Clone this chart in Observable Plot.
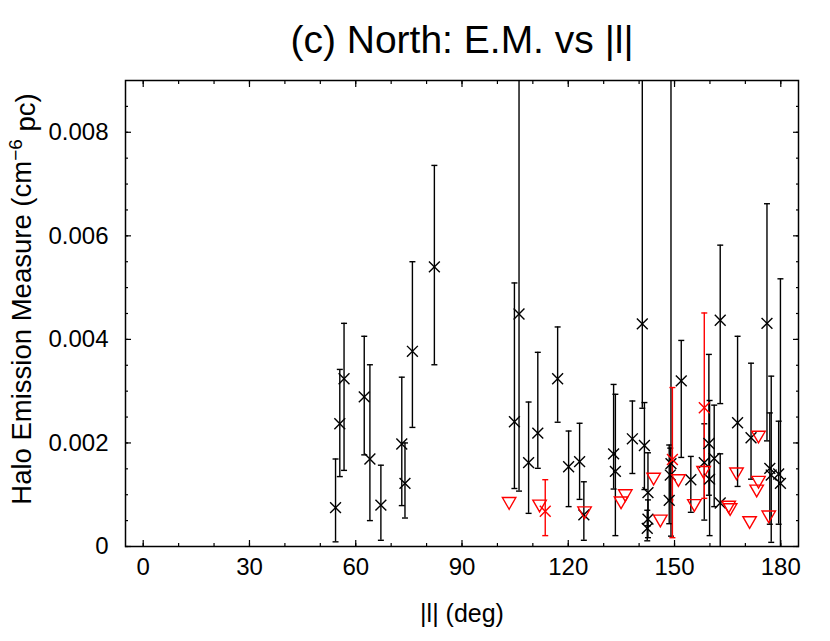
<!DOCTYPE html>
<html>
<head>
<meta charset="utf-8">
<script src="https://cdn.jsdelivr.net/npm/d3@7"></script>
<script src="https://cdn.jsdelivr.net/npm/@observablehq/plot@0.6"></script>
<style>
  html, body { margin: 0; padding: 0; background: #fff; }
  svg { display: block; }
</style>
</head>
<body>
<div id="chart"></div>
<script>
// ---- data ----
const titleText = "(c) North: E.M. vs |l|";
const xLabelText = "|l| (deg)";

const xMajorTicks = [0, 30, 60, 90, 120, 150, 180];
const xMinorTicks = [0, 10, 20, 30, 40, 50, 60, 70, 80, 90, 100, 110, 120, 130, 140, 150, 160, 170, 180];
const yMajorTicks = [0, 0.002, 0.004, 0.006, 0.008];
const yMinorTicks = [0, 0.0005, 0.001, 0.0015, 0.002, 0.0025, 0.003, 0.0035, 0.004, 0.0045, 0.005, 0.0055, 0.006, 0.0065, 0.007, 0.0075, 0.008, 0.0085];

// detections (black x with error bars)
const blackL  = [54.3, 55.5, 56.7, 62.4, 64.0, 67.1, 73.0, 73.9, 76.0, 82.2,
                 104.8, 106.1, 108.8, 111.4, 117.0, 120.1, 123.2, 124.4,
                 132.8, 133.3, 138.1, 140.9, 141.5, 142.5, 142.5, 142.3,
                 148.5, 148.8, 149.0, 151.9, 154.6, 158.4, 159.7, 159.9, 161.2,
                 162.9, 162.9, 167.8, 171.6, 176.1, 176.9, 177.3, 179.4, 179.9];
const blackEM = [0.00075, 0.00237, 0.00324, 0.00289, 0.00169, 0.00080, 0.00198, 0.00122, 0.00377, 0.00540,
                 0.00241, 0.00449, 0.00162, 0.00219, 0.00324, 0.00154, 0.00164, 0.00061,
                 0.00179, 0.00145, 0.00208, 0.00430, 0.00195, 0.00104, 0.00053, 0.00035,
                 0.00089, 0.00138, 0.00160, 0.00320, 0.00129, 0.00162, 0.00199, 0.00130, 0.00170,
                 0.00437, 0.00084, 0.00239, 0.00210, 0.00431, 0.00151, 0.00138, 0.00140, 0.00122];
const blackLo = [0.00009, 0.00135, 0.00147, 0.00177, 0.00050, 0.00012, 0.00079, 0.00055, 0.00230, 0.00351,
                 0.00112, 0.00107, 0.00064, 0.00151, 0.00240, 0.00077, 0.00091, 0.00012,
                 0.00111, 0.00021, 0.00141, 0.00267, 0.00110, 0.00040, 0.00017, 0.00011,
                 0.00044, 0.00090, 0.00020, 0.00172, 0.00066, 0.00051, 0.00099, 0.00021, 0.00077,
                 0.00276, -0.0005, 0.00116, 0.00130, 0.00204, 0.00043, 0.00008, 0.00043, -0.0005];
const blackHi = [0.00169, 0.00342, 0.00431, 0.00406, 0.00351, 0.00157, 0.00327, 0.00200, 0.00550, 0.00736,
                 0.00509, 0.0095, 0.00279, 0.00375, 0.00424, 0.00223, 0.00238, 0.00125,
                 0.00313, 0.00294, 0.00281, 0.0095, 0.00278, 0.00181, 0.00090, 0.00070,
                 0.00196, 0.00190, 0.0095, 0.00398, 0.00174, 0.00237, 0.00371, 0.00282, 0.00273,
                 0.00582, 0.00179, 0.00406, 0.00354, 0.00662, 0.00258, 0.00329, 0.00242, 0.00517];

// red detections (red x with error bars)
const redL  = [113.5, 149.4, 158.4];
const redEM = [0.00068, 0.00168, 0.00268];
const redLo = [0.00021, 0.00017, 0.00093];
const redHi = [0.00129, 0.00307, 0.00451];

// upper limits (red down triangles)
const limL  = [103.3, 111.9, 124.6, 134.9, 136.1, 144.1, 146.0, 151.1, 155.6, 158.2,
               165.3, 165.7, 167.5, 171.2, 173.2, 173.7, 173.7, 176.6];
const limEM = [0.00087, 0.00082, 0.00069, 0.00088, 0.00102, 0.00134, 0.00053, 0.00131, 0.00083, 0.00147,
               0.00080, 0.00075, 0.00144, 0.00050, 0.00111, 0.00128, 0.00215, 0.00061];

// ---- tables built from the arrays ----
const black = blackL.map((l, i) => ({l, em: blackEM[i], lo: blackLo[i], hi: blackHi[i]}));
const red = redL.map((l, i) => ({l, em: redEM[i], lo: redLo[i], hi: redHi[i]}));
const limits = limL.map((l, i) => ({l, em: limEM[i]}));

const capSymbol = {
  draw(context, size) {
    const r = Math.sqrt(size / Math.PI);
    context.moveTo(-r, 0);
    context.lineTo(r, 0);
  }
};

const FONT = "'Liberation Sans', Arial, Helvetica, sans-serif";
const BLACK = "#000000";
const RED = "#ff0000";

function errorMarks(data, color) {
  return [
    Plot.ruleX(data, {x: "l", y1: "lo", y2: "hi", stroke: color, strokeWidth: 1.4, clip: true}),
    Plot.dot(data, {x: "l", y: "lo", symbol: capSymbol, r: 3, stroke: color, strokeWidth: 1.4, fill: "none", clip: true}),
    Plot.dot(data, {x: "l", y: "hi", symbol: capSymbol, r: 3, stroke: color, strokeWidth: 1.4, fill: "none", clip: true})
  ];
}

const chart = Plot.plot({
  width: 830,
  height: 641,
  marginLeft: 125,
  marginRight: 32,
  marginTop: 80,
  marginBottom: 95,
  style: {fontFamily: FONT, background: "#fff", color: "#000"},
  x: {domain: [-5, 185], label: null},
  y: {domain: [0, 0.009], label: null},
  marks: [
    // inward ticks on all four sides
    Plot.axisX(xMinorTicks, {anchor: "bottom", tickSize: -3, tickFormat: () => "", strokeWidth: 1.2, label: null}),
    Plot.axisX(xMajorTicks, {anchor: "bottom", tickSize: -6, tickFormat: () => "", strokeWidth: 1.2, label: null}),
    Plot.axisX(xMinorTicks, {anchor: "top", tickSize: -3, tickFormat: () => "", strokeWidth: 1.2, label: null}),
    Plot.axisX(xMajorTicks, {anchor: "top", tickSize: -6, tickFormat: () => "", strokeWidth: 1.2, label: null}),
    Plot.axisY(yMinorTicks, {anchor: "left", tickSize: -3, tickFormat: () => "", strokeWidth: 1.2, label: null}),
    Plot.axisY(yMajorTicks, {anchor: "left", tickSize: -6, tickFormat: () => "", strokeWidth: 1.2, label: null}),
    Plot.axisY(yMinorTicks, {anchor: "right", tickSize: -3, tickFormat: () => "", strokeWidth: 1.2, label: null}),
    Plot.axisY(yMajorTicks, {anchor: "right", tickSize: -6, tickFormat: () => "", strokeWidth: 1.2, label: null}),
    // tick labels
    Plot.axisX(xMajorTicks, {anchor: "bottom", tickSize: 0, tickPadding: 11, fontSize: 24, label: null, tickFormat: d => String(d)}),
    Plot.axisY(yMajorTicks, {anchor: "left", tickSize: 0, tickPadding: 17, fontSize: 24, label: null,
      tickFormat: d => d === 0 ? "0" : d.toFixed(3)}),
    // data
    ...errorMarks(black, BLACK),
    ...errorMarks(red, RED),
    Plot.dot(black, {x: "l", y: "em", symbol: "times", r: 5, stroke: BLACK, strokeWidth: 1.4}),
    Plot.dot(red, {x: "l", y: "em", symbol: "times", r: 5, stroke: RED, strokeWidth: 1.4}),
    Plot.dot(limits, {x: "l", y: "em", symbol: "triangle", rotate: 180, r: 5, stroke: RED, strokeWidth: 1.4, fill: "none"}),
    // frame
    Plot.frame({stroke: BLACK, strokeWidth: 1.5}),
    // title and x label
    Plot.text([titleText], {frameAnchor: "top", dy: -28, lineAnchor: "bottom", fontSize: 39, fill: BLACK}),
    Plot.text([xLabelText], {frameAnchor: "bottom", dy: 75, lineAnchor: "bottom", fontSize: 25, fill: BLACK})
  ]
});

// y-axis label with superscript (real text)
const svg = d3.select(chart);
const yLab = svg.append("text")
  .attr("transform", "translate(31, 299) rotate(-90)")
  .attr("text-anchor", "middle")
  .attr("font-family", FONT)
  .attr("font-size", 27.5)
  .attr("fill", BLACK);
yLab.append("tspan").text("Halo Emission Measure (cm");
yLab.append("tspan").attr("dy", "-0.45em").attr("font-size", 19).text("\u22126");
yLab.append("tspan").attr("dy", "0.45em").text(" pc)");

document.getElementById("chart").appendChild(chart);
</script>
</body>
</html>
